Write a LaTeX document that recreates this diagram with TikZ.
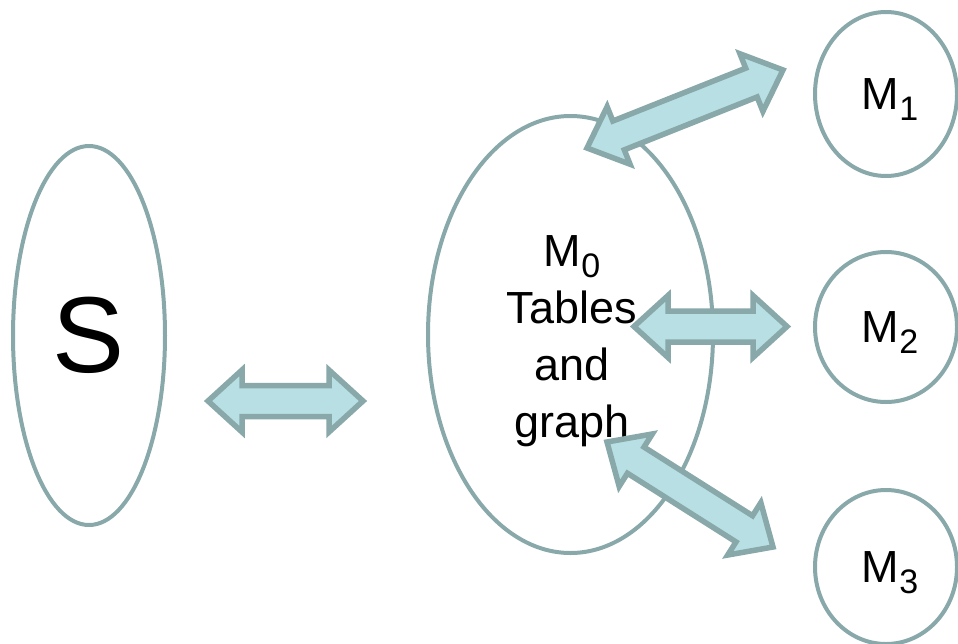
\documentclass[tikz,border=0pt]{standalone}
\usepackage{fontspec}
\setmainfont{Liberation Sans}
\usetikzlibrary{shapes.geometric,calc}
\definecolor{edgec}{HTML}{88A8AA}
\definecolor{fillc}{HTML}{B8DFE3}
\newcommand\lowsub[1]{\smash{\raisebox{-5.75pt}{\fontsize{17pt}{17pt}\selectfont #1}}}
% block double arrow from #1 to #2 (tip to tip)
\newcommand\blockarrow[2]{%
  \draw[blockarr] (#1)
    -- ($(#1)!17pt!(#2)!15.5pt!90:(#2)$)
    -- ($(#1)!17pt!(#2)!7.75pt!90:(#2)$)
    -- ($(#2)!17pt!(#1)!7.75pt!-90:(#1)$)
    -- ($(#2)!17pt!(#1)!15.5pt!-90:(#1)$)
    -- (#2)
    -- ($(#2)!17pt!(#1)!15.5pt!90:(#1)$)
    -- ($(#2)!17pt!(#1)!7.75pt!90:(#1)$)
    -- ($(#1)!17pt!(#2)!7.75pt!-90:(#2)$)
    -- ($(#1)!17pt!(#2)!15.5pt!-90:(#2)$)
    -- cycle;}
\begin{document}
\begin{tikzpicture}[x=0.5pt,y=-0.5pt,
  oval/.style={ellipse, draw=edgec, line width=2pt, fill=white, inner sep=0pt},
  blockarr/.style={draw=edgec, fill=fillc, line width=2.75pt, line join=miter},
  mtext/.style={font=\fontsize{22.5pt}{28.5pt}\selectfont},
  bigtext/.style={font=\fontsize{54pt}{54pt}\selectfont}]
\useasboundingbox (0,0) rectangle (958,643);
% ellipses
\node[oval, bigtext, minimum width=76pt, minimum height=189.5pt] (S) at (89,335.5) {S};
\node[oval, minimum width=142.5pt, minimum height=218.5pt] (M0) at (570.5,334.5) {};
\node[mtext, align=center, anchor=base, inner sep=0pt] (m0t) at (572,437) {M\lowsub{0}\\Tables\\and\\graph};
\node[oval, mtext, minimum width=71pt, minimum height=82pt] (M1) at (886,94) {\hspace{4pt}M\lowsub{1}};
\node[oval, mtext, minimum width=71pt, minimum height=75pt] (M2) at (886,327) {\hspace{4pt}M\lowsub{2}};
\node[oval, mtext, minimum width=71pt, minimum height=77pt] (M3) at (886,567) {\hspace{4pt}M\lowsub{3}};
% arrow end points
\coordinate (a1s) at (208,401);
\coordinate (a1e) at (363,401);
\coordinate (a2s) at (634,326.5);
\coordinate (a2e) at (787,326.5);
\coordinate (a3s) at (587,148);
\coordinate (a3e) at (783,70);
\coordinate (a4s) at (607,442);
\coordinate (a4e) at (773,547);
\blockarrow{a1s}{a1e}
\blockarrow{a2s}{a2e}
\blockarrow{a3s}{a3e}
\blockarrow{a4s}{a4e}
\end{tikzpicture}
\end{document}
